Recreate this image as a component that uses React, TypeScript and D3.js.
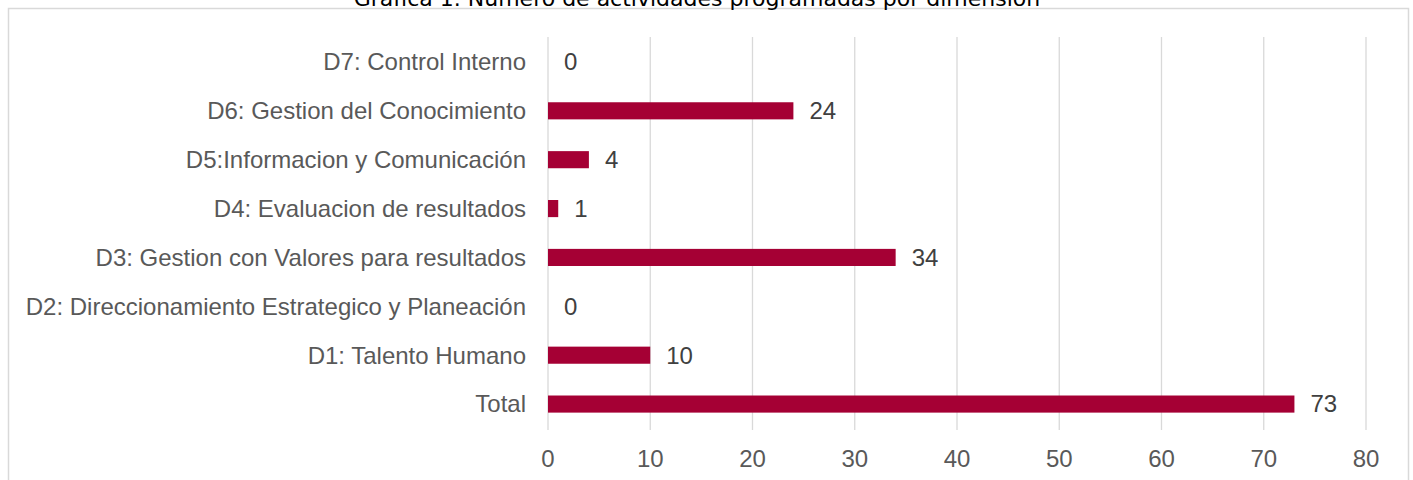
import React from "react";
import * as d3 from "d3";

const categories = [
  "D7: Control Interno",
  "D6: Gestion del Conocimiento",
  "D5:Informacion y Comunicación",
  "D4: Evaluacion de resultados",
  "D3: Gestion con Valores para resultados",
  "D2: Direccionamiento Estrategico y Planeación",
  "D1: Talento Humano",
  "Total",
];
const values = [0, 24, 4, 1, 34, 0, 10, 73];
const xTicks = [0, 10, 20, 30, 40, 50, 60, 70, 80];
const title = "Grafica 1. Numero de actividades programadas por dimension";

const W = 1413;
const H = 480;
const LABEL_FONT = "'Liberation Sans', Arial, sans-serif";

export default function App() {
  const x = d3.scaleLinear().domain([0, 80]).range([548, 1366]);
  const y = d3
    .scaleBand<string>()
    .domain(categories)
    .range([37.5, 428.5])
    .paddingInner(0.65)
    .paddingOuter(0.325);
  const gridTop = 37;
  const gridBottom = 430;
  return (
    <svg
      width={W}
      height={H}
      style={{ position: "absolute", left: 0, top: 0, background: "#fff" }}
    >
      <rect x={8.5} y={8.5} width={1400} height={480} fill="#fff" stroke="#d9d9d9" strokeWidth={1.5} />
      <text
        x={697}
        y={5.5}
        textAnchor="middle"
        fontFamily="'DejaVu Sans', Verdana, sans-serif"
        fontSize={22}
        fill="#000"
      >
        {title}
      </text>
      {xTicks.map((t) => (
        <g key={t}>
          <line
            x1={x(t)}
            x2={x(t)}
            y1={gridTop}
            y2={gridBottom}
            stroke="#d9d9d9"
            strokeWidth={1.3}
          />
          <text
            x={x(t)}
            y={467}
            textAnchor="middle"
            fontFamily={LABEL_FONT}
            fontSize={24}
            fill="#595959"
          >
            {t}
          </text>
        </g>
      ))}
      {categories.map((c, i) => {
        const yc = (y(c) as number) + y.bandwidth() / 2;
        return (
          <g key={c}>
            <text
              x={526}
              y={yc}
              dy="0.35em"
              textAnchor="end"
              fontFamily={LABEL_FONT}
              fontSize={24}
              fill="#595959"
            >
              {c}
            </text>
            {values[i] > 0 && (
              <rect
                x={x(0)}
                y={y(c)}
                width={x(values[i]) - x(0)}
                height={y.bandwidth()}
                fill="#A50034"
              />
            )}
            <text
              x={x(values[i]) + 16}
              y={yc}
              dy="0.35em"
              fontFamily={LABEL_FONT}
              fontSize={24}
              fill="#404040"
            >
              {values[i]}
            </text>
          </g>
        );
      })}
    </svg>
  );
}
